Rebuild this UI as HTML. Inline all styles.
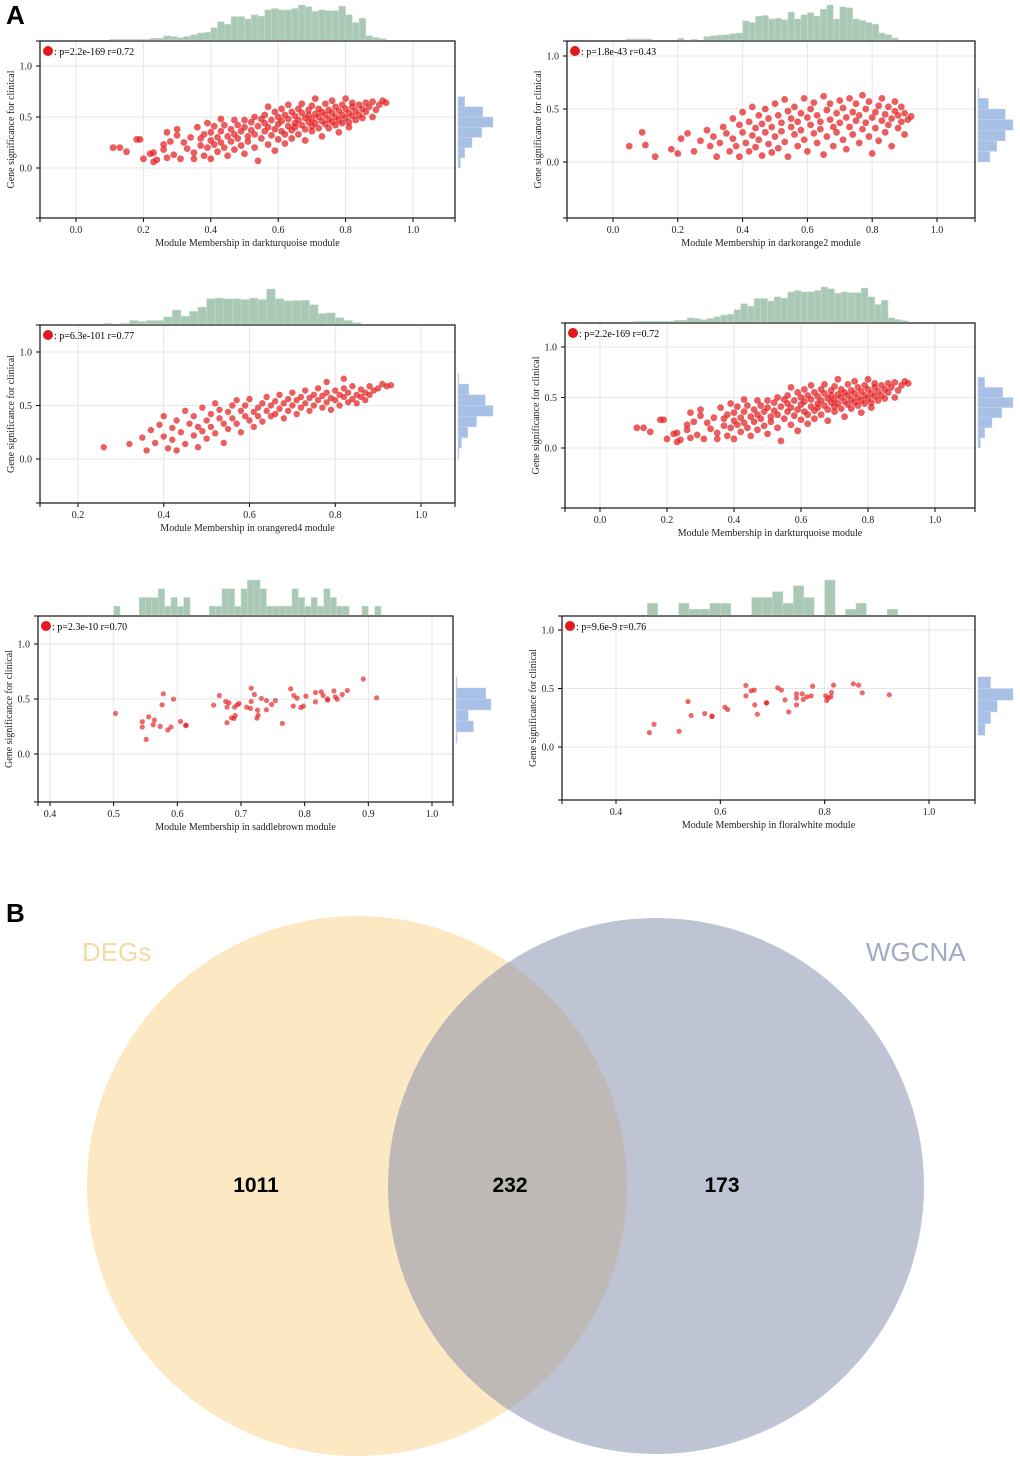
<!DOCTYPE html>
<html><head><meta charset="utf-8"><style>
body{margin:0;background:#fff;width:1020px;height:1459px;overflow:hidden;font-family:"Liberation Serif",serif}
svg{position:absolute;left:0;top:0}
</style></head><body>
<svg id="fig" width="1020" height="1459">
<text x="6" y="24" font-family="Liberation Sans,sans-serif" font-weight="bold" font-size="26">A</text>
<text x="6" y="922" font-family="Liberation Sans,sans-serif" font-weight="bold" font-size="26">B</text>
<g>
<circle cx="357" cy="1186" r="270" fill="#f8cd79" fill-opacity="0.45"/>
<circle cx="656" cy="1186" r="268" fill="#7f89ab" fill-opacity="0.5"/>
<text x="82" y="961" font-family="Liberation Sans,sans-serif" font-size="26" fill="#f7d9a4">DEGs</text>
<text x="866" y="961" font-family="Liberation Sans,sans-serif" font-size="26" fill="#a2a9c4">WGCNA</text>
<text x="256" y="1192" text-anchor="middle" font-family="Liberation Sans,sans-serif" font-weight="bold" font-size="21">1011</text>
<text x="510" y="1192" text-anchor="middle" font-family="Liberation Sans,sans-serif" font-weight="bold" font-size="21">232</text>
<text x="722" y="1192" text-anchor="middle" font-family="Liberation Sans,sans-serif" font-weight="bold" font-size="21">173</text>
</g>
</svg>
<script>
const p1x=[.11,.13,.15,.18,.19,.20,.22,.23,.23,.24,.26,.26,.27,.27,.28,.29,.30,.30,.31,.32,.33,.34,.35,.35,.36,.37,.37,.38,.38,.39,.39,.40,.40,.40,.41,.41,.42,.42,.43,.43,.43,.44,.44,.45,.45,.46,.46,.47,.47,.47,.48,.48,.49,.49,.50,.50,.50,.51,.51,.52,.52,.53,.53,.53,.54,.54,.55,.55,.56,.56,.56,.57,.57,.57,.58,.58,.59,.59,.59,.60,.60,.60,.61,.61,.61,.62,.62,.62,.63,.63,.63,.64,.64,.64,.65,.65,.65,.66,.66,.66,.67,.67,.67,.68,.68,.68,.69,.69,.69,.70,.70,.70,.70,.71,.71,.71,.72,.72,.72,.73,.73,.73,.74,.74,.74,.75,.75,.75,.76,.76,.76,.77,.77,.77,.78,.78,.78,.79,.79,.79,.80,.80,.80,.81,.81,.81,.82,.82,.82,.83,.83,.84,.84,.85,.85,.86,.86,.87,.88,.88,.89,.90,.91,.92];
const p1y=[.20,.20,.16,.28,.28,.09,.14,.06,.15,.08,.23,.18,.35,.10,.26,.13,.38,.32,.09,.25,.19,.30,.15,.09,.40,.29,.22,.12,.33,.44,.20,.27,.35,.09,.23,.41,.30,.16,.48,.36,.25,.20,.42,.31,.12,.38,.26,.47,.18,.33,.29,.42,.36,.22,.47,.14,.40,.31,.26,.45,.37,.50,.20,.33,.41,.07,.29,.48,.36,.44,.52,.23,.40,.60,.32,.47,.38,.55,.17,.43,.28,.50,.36,.58,.46,.33,.24,.52,.41,.48,.62,.37,.55,.29,.44,.51,.40,.58,.33,.47,.42,.54,.63,.38,.49,.27,.45,.57,.52,.41,.48,.61,.36,.53,.44,.68,.50,.39,.58,.46,.55,.31,.52,.43,.63,.48,.57,.39,.54,.45,.66,.50,.60,.42,.56,.47,.35,.52,.62,.44,.58,.49,.68,.54,.45,.40,.60,.51,.64,.56,.47,.62,.52,.58,.49,.64,.55,.60,.50,.65,.57,.62,.66,.64];
const p2x=[.05,.09,.10,.13,.18,.20,.21,.23,.25,.27,.29,.30,.31,.32,.33,.34,.35,.36,.37,.37,.38,.39,.39,.40,.40,.41,.42,.42,.43,.43,.44,.44,.45,.45,.46,.46,.47,.47,.48,.48,.49,.49,.50,.50,.51,.51,.52,.52,.53,.53,.54,.54,.55,.55,.56,.56,.57,.57,.58,.58,.59,.59,.60,.60,.61,.61,.62,.62,.63,.63,.64,.64,.65,.65,.66,.66,.67,.67,.68,.68,.69,.69,.70,.70,.71,.71,.72,.72,.73,.73,.74,.74,.75,.75,.76,.76,.77,.77,.78,.78,.79,.79,.80,.80,.81,.81,.82,.82,.83,.83,.84,.84,.85,.85,.86,.86,.87,.87,.88,.88,.89,.89,.90,.90,.91,.92];
const p2y=[.15,.28,.16,.05,.12,.08,.22,.27,.10,.20,.30,.15,.24,.05,.18,.33,.27,.10,.41,.22,.15,.35,.05,.28,.47,.18,.38,.10,.25,.52,.32,.14,.44,.21,.06,.36,.50,.28,.17,.41,.09,.33,.55,.24,.44,.13,.37,.29,.59,.19,.48,.05,.33,.41,.26,.52,.15,.38,.46,.30,.60,.21,.42,.10,.35,.50,.27,.56,.18,.44,.38,.31,.62,.07,.49,.24,.40,.55,.33,.15,.46,.28,.58,.37,.21,.51,.42,.12,.60,.33,.47,.26,.39,.55,.18,.44,.63,.31,.50,.37,.24,.57,.42,.08,.47,.32,.53,.20,.39,.60,.45,.28,.52,.35,.41,.15,.48,.57,.32,.44,.38,.52,.46,.26,.40,.43];
const p3x=[.26,.32,.35,.36,.37,.38,.39,.40,.40,.41,.42,.42,.43,.43,.44,.45,.45,.46,.47,.47,.48,.48,.49,.49,.50,.50,.51,.51,.52,.52,.53,.53,.54,.54,.55,.55,.56,.56,.57,.57,.58,.58,.59,.59,.60,.60,.61,.61,.62,.62,.63,.63,.64,.64,.65,.65,.66,.66,.67,.67,.68,.68,.69,.69,.70,.70,.71,.71,.72,.72,.73,.73,.74,.74,.75,.75,.76,.76,.77,.77,.78,.78,.79,.79,.80,.80,.81,.81,.82,.82,.83,.83,.84,.84,.85,.85,.86,.86,.87,.87,.88,.88,.89,.90,.91,.92,.93,.82,.78];
const p3y=[.11,.14,.20,.08,.27,.15,.32,.21,.40,.10,.29,.18,.36,.08,.25,.45,.14,.33,.22,.40,.30,.11,.48,.26,.36,.19,.42,.30,.52,.24,.38,.46,.33,.15,.44,.28,.50,.38,.33,.55,.45,.25,.40,.50,.36,.56,.44,.30,.48,.40,.52,.35,.45,.58,.40,.50,.54,.42,.47,.60,.38,.52,.56,.45,.50,.62,.42,.55,.58,.48,.52,.64,.45,.57,.60,.50,.55,.66,.48,.59,.62,.53,.57,.46,.64,.55,.60,.50,.66,.58,.53,.62,.56,.68,.60,.52,.65,.58,.62,.55,.68,.60,.64,.66,.70,.68,.69,.75,.72];
const p5x=[.503,.545,.545,.551,.555,.562,.564,.573,.576,.578,.585,.590,.594,.605,.613,.614,.657,.666,.676,.678,.681,.678,.685,.689,.691,.690,.694,.697,.709,.715,.716,.716,.721,.725,.727,.726,.732,.740,.740,.748,.754,.765,.778,.782,.783,.788,.794,.798,.802,.817,.817,.826,.829,.836,.836,.846,.848,.851,.859,.867,.892,.913];
const p5y=[.369,.293,.245,.133,.338,.266,.308,.251,.447,.547,.218,.245,.498,.296,.260,.260,.444,.532,.477,.426,.465,.284,.329,.323,.350,.426,.447,.459,.426,.414,.477,.598,.541,.326,.353,.399,.505,.486,.402,.450,.486,.278,.592,.435,.532,.508,.423,.435,.526,.559,.474,.565,.532,.489,.501,.574,.520,.498,.541,.577,.682,.511];
const p6x=[.464,.473,.521,.538,.544,.570,.584,.584,.609,.614,.649,.649,.659,.665,.666,.671,.688,.689,.710,.717,.724,.731,.746,.746,.746,.757,.759,.766,.774,.777,.802,.804,.807,.812,.813,.817,.855,.865,.872,.924];
const p6y=[.123,.194,.134,.389,.269,.286,.263,.263,.340,.320,.526,.437,.480,.486,.360,.280,.377,.377,.506,.486,.403,.300,.454,.417,.360,.454,.406,.429,.437,.520,.437,.397,.420,.429,.466,.529,.540,.529,.463,.446];
// top (x) histograms: relative bar heights, bins start at given value
const hTop1=[.02,.02,.02,.02,.02,.02,.05,.05,.12,.1,.07,.1,.15,.2,.22,.35,.52,.45,.67,.67,.6,.72,.68,.86,.9,.86,.86,.9,1,.95,.82,.86,.84,.84,.97,.72,.5,.62,.12,.07,.04];
const hTop2=[.03,.03,.03,.03,0,0,0,0,.05,0,.02,0,.1,.12,.14,.15,.18,.2,.55,.5,.68,.7,.6,.62,.58,.8,.6,.72,.78,.68,.88,1,.6,.95,.92,.6,.56,.5,.45,.2,.15,.06];
const hTop3=[.02,0,.02,.1,.07,.1,.1,.2,.4,.22,.36,.48,.72,.74,.72,.72,.7,.74,.7,1,.72,.66,.67,.68,.55,.3,.32,.18,.1,.04];
const hTop5=[1,0,0,0,2,2,2,3,1,2,1,2,0,0,0,1,1,3,3,1,3,4,4,3,1,1,1,1,3,2,1,2,1,3,2,1,1,0,0,1,0,1];
const hTop6=[2,0,0,2,1,1,2,2,0,0,3,3,4,2,5,3,0,6,0,1,2,0,0,1];
const hTopStart=[.10,.04,.26,.10,.50,.46];
const hTopBin=[.02,.02,.02,.02,.01,.02];
// right (y) histograms, bins of 0.1 starting at 0.0
const hRight1=[.07,.19,.4,.68,1,.71,.19];
const hRight2=[.34,.54,.78,1,.78,.3,.02];
const hRight3=[.02,.1,.28,.53,1,.78,.31,.02];
const hRight5=[0,.02,.5,.35,1,.85,.02];
const hRight6=[0,.2,.36,.55,1,.36];
const xTicks1=[0,.2,.4,.6,.8,1], xTicks3=[.2,.4,.6,.8,1], xTicks5=[.4,.5,.6,.7,.8,.9,1], xTicks6=[.4,.6,.8,1];
const yTicks=[0,.5,1];
const legends=["p=2.2e-169 r=0.72","p=1.8e-43 r=0.43","p=6.3e-101 r=0.77","p=2.2e-169 r=0.72","p=2.3e-10 r=0.70","p=9.6e-9 r=0.76"];
const modules=["darkturquoise","darkorange2","orangered4","darkturquoise","saddlebrown","floralwhite"];

const NS="http://www.w3.org/2000/svg";
const svg=document.getElementById('fig');
function mk(tag,attrs,parent){const e=document.createElementNS(NS,tag);for(const k in attrs)e.setAttribute(k,attrs[k]);parent.appendChild(e);return e;}
const panels=[
 {b:[40,41,455,218],xa:[0,76,1,413],ya:[0,168,1,66],xs:p1x,ys:p1y,xt:xTicks1,ht:hTop1,hr:hRight1,pr:3.4,op:.7},
 {b:[567,41,975,218],xa:[0,613,1,937],ya:[0,162,1,56],xs:p2x,ys:p2y,xt:xTicks1,ht:hTop2,hr:hRight2,pr:3.4,op:.7},
 {b:[40,325,455,503],xa:[.2,78,1,421],ya:[0,459,1,352],xs:p3x,ys:p3y,xt:xTicks3,ht:hTop3,hr:hRight3,pr:3.2,op:.7},
 {b:[565,323,975,508],xa:[0,600,1,935],ya:[0,448,1,347],xs:p1x,ys:p1y,xt:xTicks1,ht:hTop1,hr:hRight1,pr:3.4,op:.7},
 {b:[38,616,453,802],xa:[.4,50,1,432],ya:[0,754,1,644],xs:p5x,ys:p5y,xt:xTicks5,ht:hTop5,hr:hRight5,pr:2.6,op:.65},
 {b:[562,616,975,800],xa:[.4,616,1,929],ya:[0,747,1,630],xs:p6x,ys:p6y,xt:xTicks6,ht:hTop6,hr:hRight6,pr:2.6,op:.65}
];
panels.forEach((p,i)=>{
 const [L,T,R,B]=p.b;
 const X=v=>p.xa[1]+(v-p.xa[0])*(p.xa[3]-p.xa[1])/(p.xa[2]-p.xa[0]);
 const Y=v=>p.ya[1]+(v-p.ya[0])*(p.ya[3]-p.ya[1])/(p.ya[2]-p.ya[0]);
 const g=mk('g',{},svg);
 
 
 p.xt.forEach(t=>{const l=mk('line',{x1:X(t),x2:X(t),y1:T,y2:B,stroke:'#e6e6e6','stroke-width':1},g);
  
  const tk=mk('line',{x1:X(t),x2:X(t),y1:B,y2:B+4,stroke:'#000'},g);
  
  const tx=mk('text',{x:X(t),y:B+15,'text-anchor':'middle','font-size':10,fill:'#222'},g);tx.textContent=t.toFixed(1);
  });
 yTicks.forEach(t=>{const l=mk('line',{x1:L,x2:R,y1:Y(t),y2:Y(t),stroke:'#e6e6e6','stroke-width':1},g);
  
  const tk=mk('line',{x1:L-4,x2:L,y1:Y(t),y2:Y(t),stroke:'#000'},g);
  
  const tx=mk('text',{x:L-8,y:Y(t)+3.5,'text-anchor':'end','font-size':10,fill:'#222'},g);tx.textContent=t.toFixed(1);
  });
 [[L-4,B,L,B],[L,B,L,B+4],[R,B,R,B+4],[L-4,T,L,T]].forEach(c=>mk('line',{x1:c[0],y1:c[1],x2:c[2],y2:c[3],stroke:'#000'},g));
 const fr=mk('rect',{x:L,y:T,width:R-L,height:B-T,fill:'none',stroke:'#222','stroke-width':1.3},g);
 
 // top histogram
 const ht=p.ht, mx=Math.max(...ht), st=hTopStart[i], bw=hTopBin[i];
 ht.forEach((c,k)=>{if(!c)return;const h=c/mx*35;const x0=X(st+k*bw);
  const r=mk('rect',{x:x0,y:T-1-h,width:X(st+(k+1)*bw)-x0,height:h,fill:'#a9c9b6',stroke:'#c9ddd0','stroke-width':.5},g);
  });
 // right histogram
 const hr=p.hr, m2=Math.max(...hr);
 hr.forEach((c,k)=>{if(!c)return;const w=Math.max(c/m2*35,1);const y1=Y((k+1)*.1),y0=Y(k*.1);
  const r=mk('rect',{x:R+3,y:y1,width:w,height:y0-y1,fill:'#a8c0e6',stroke:'#c8d7ef','stroke-width':.5},g);
  });
 // points
 p.xs.forEach((v,j)=>{const c=mk('circle',{cx:X(v),cy:Y(p.ys[j]),r:p.pr,fill:'#e31a1c','fill-opacity':p.op},g);
  });
 // legend
 const lc=mk('circle',{cx:L+8,cy:T+10,r:5,fill:'#e31a1c'},g);
 
 const lt=mk('text',{x:L+14,y:T+14,'font-size':10},g);lt.textContent=': '+legends[i];
 
 const xt=mk('text',{x:(L+R)/2,y:B+28,'text-anchor':'middle','font-size':10,fill:'#222'},g);
 xt.textContent='Module Membership in '+modules[i]+' module';
 
 const cy=(T+B)/2;const yt=mk('text',{x:L-26,y:cy,'text-anchor':'middle','font-size':10,fill:'#222',transform:`rotate(-90 ${L-26} ${cy})`},g);
 yt.textContent='Gene significance for clinical';
 
});
</script>
</body></html>
